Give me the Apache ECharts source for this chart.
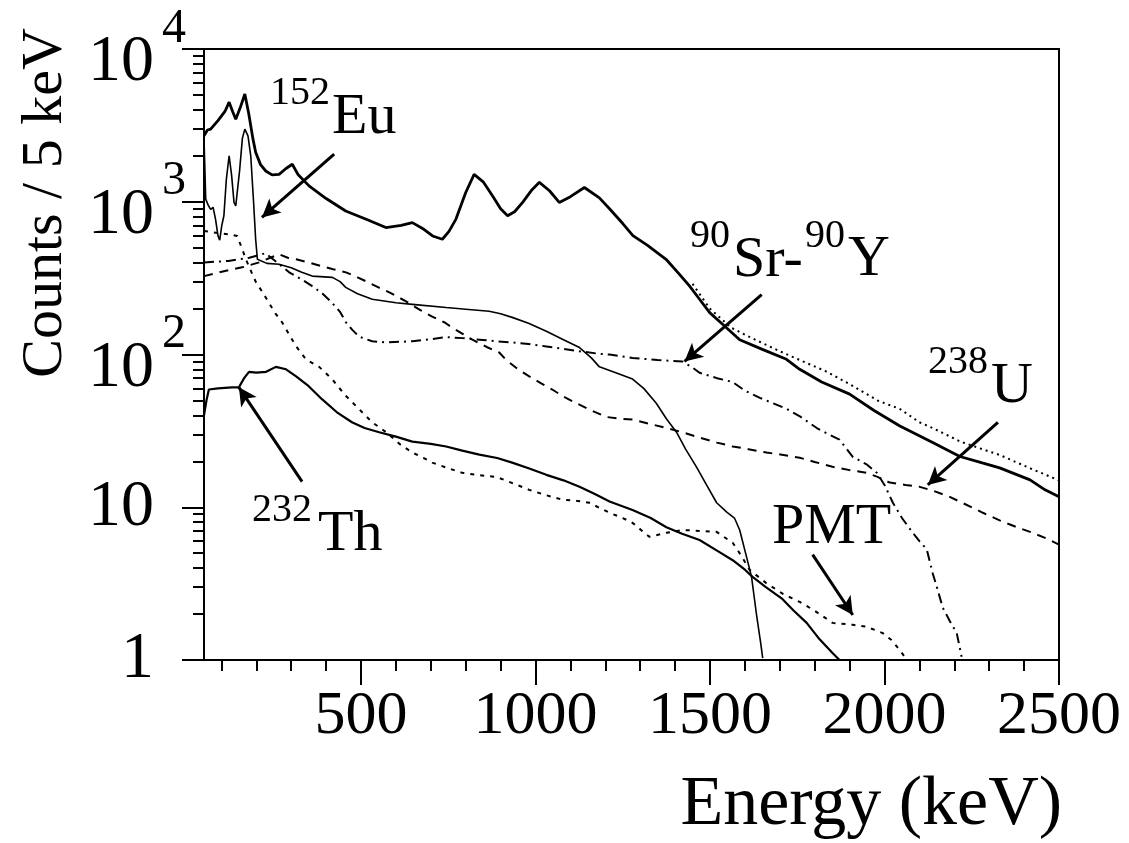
<!DOCTYPE html>
<html>
<head>
<meta charset="utf-8">
<script src="https://cdn.jsdelivr.net/npm/echarts@6/dist/echarts.min.js"></script>
<style>
html,body{margin:0;padding:0;background:#fff;}
#chart{width:1129px;height:843px;}
</style>
</head>
<body>
<div id="chart"></div>
<script>
// ---------- data (keV, counts / 5 keV) ----------
const topCurve = [[50,2700],[60,2950],[69,2990],[90,3400],[110,3900],[122,4490],[132,3900],[141,3470],[155,4200],[167,5070],[178,3800],[190,2600],[198,2110],[212,1750],[227,1590],[245,1500],[265,1510],[285,1650],[303,1760],[320,1500],[351,1270],[400,1050],[456,870],[520,760],[571,678],[615,700],[647,730],[680,660],[705,597],[733,568],[752,640],[772,770],[800,1150],[824,1510],[850,1350],[877,1090],[900,900],[920,810],[940,860],[963,990],[990,1200],[1011,1340],[1040,1180],[1068,990],[1100,1080],[1140,1240],[1183,1060],[1212,900],[1250,720],[1279,600],[1320,520],[1374,420],[1410,340],[1441,281],[1470,230],[1499,188],[1540,155],[1585,125],[1650,108],[1719,93],[1757,80],[1820,66],[1900,55],[1970,43],[2044,34],[2138,26.5],[2216,21.5],[2280,19.5],[2330,18.1],[2417,15.1],[2460,13],[2500,11.7]];
const topDotted = [[1450,290],[1499,200],[1560,150],[1620,128],[1700,105],[1757,92],[1830,78],[1900,64],[1980,50],[2044,44],[2100,36],[2138,33],[2216,27],[2280,24],[2330,22],[2417,18],[2500,15]];
const eu152 = [[50,2570],[53,1500],[55,1040],[62,950],[69,890],[76,920],[83,770],[90,600],[95,560],[101,700],[107,810],[114,1400],[122,2000],[129,1500],[136,990],[141,940],[152,1600],[160,2600],[167,2990],[176,2700],[184,2000],[192,1000],[198,568],[203,420],[230,395],[265,390],[300,370],[330,345],[360,326],[418,320],[440,300],[456,275],[490,250],[532,230],[600,218],[647,213],[744,203],[800,198],[867,192],[900,185],[933,175],[980,160],[1031,142],[1080,125],[1126,111],[1160,95],[1183,83],[1230,76],[1278,69],[1310,60],[1346,48],[1375,38],[1404,31],[1430,24],[1461,18.4],[1490,14],[1519,10.7],[1548,9.3],[1570,8.5],[1585,7.1],[1605,4.7],[1619,3.5],[1633,2.0],[1645,1.3],[1651,1.03]];
const th232 = [[50,40],[57,50],[64,59],[90,60],[130,61],[150,61],[165,70],[179,77],[200,76],[228,77],[256,83],[285,80],[314,72],[350,62],[388,51],[430,42],[474,36],[510,33],[552,31],[600,29],[647,26.9],[700,26],[744,25],[790,23.5],[839,22.1],[890,21],[933,19.6],[980,18],[1031,16.3],[1080,15],[1126,13.6],[1170,12.2],[1212,10.9],[1278,9.6],[1330,8.5],[1375,7.4],[1420,6.7],[1470,6.1],[1520,5.2],[1565,4.5],[1600,3.9],[1622,3.5],[1660,3.0],[1708,2.5],[1740,2.1],[1777,1.75],[1810,1.4],[1851,1.11],[1871,1.0]];
const u238 = [[50,326],[93,345],[130,361],[159,372],[208,401],[240,430],[265,453],[290,430],[314,420],[350,400],[388,378],[420,362],[457,345],[490,320],[515,301],[550,275],[581,255],[629,223],[670,195],[704,177],[740,162],[761,150],[790,137],[819,125],[860,112],[896,103],[916,92],[950,80],[982,72],[1015,65],[1048,59],[1080,53],[1117,48],[1160,43],[1203,39],[1240,38],[1278,37.5],[1330,35],[1375,33],[1420,31],[1470,28.6],[1520,26.5],[1565,25],[1610,24],[1662,22.8],[1710,22],[1757,21.1],[1800,19.8],[1851,18.4],[1900,17.5],[1949,16.8],[1980,15.8],[2015,14.5],[2060,14],[2101,13.6],[2140,12.8],[2187,11.7],[2230,10.5],[2282,9.2],[2330,8.2],[2379,7.4],[2417,6.9],[2460,6.3],[2500,5.7]];
const srY90 = [[50,400],[120,410],[180,430],[226,460],[260,400],[294,345],[330,310],[360,280],[390,250],[417,218],[440,190],[457,162],[475,145],[494,131],[532,122],[572,120],[647,122],[700,126],[744,130],[790,128],[839,125],[890,122],[933,120],[980,117],[1031,113],[1080,109],[1126,105],[1183,101],[1212,100],[1278,95],[1350,92],[1421,90],[1450,82],[1470,76],[1520,70],[1565,66],[1600,58],[1643,52],[1680,48],[1720,44],[1760,39],[1806,33],[1840,30],[1871,27.7],[1909,21.4],[1950,19],[1978,16.8],[2000,14],[2024,10.7],[2050,8.5],[2081,6.8],[2100,6],[2121,5.3],[2138,3.7],[2150,3],[2167,2.2],[2187,1.8],[2207,1.5],[2221,1.05]];
const pmt = [[50,644],[75,630],[102,620],[125,610],[145,597],[158,500],[170,420],[185,350],[199,297],[218,255],[236,218],[255,185],[274,162],[294,135],[314,113],[342,93],[380,83],[417,69],[455,54],[494,44],[532,36],[572,31],[610,26],[647,22.8],[680,21],[704,19.6],[750,18],[790,16.8],[840,16.2],[888,15.8],[930,14.5],[982,13.0],[1030,12],[1077,11.2],[1120,11],[1154,10.7],[1212,9.2],[1250,8.5],[1278,7.9],[1326,6.4],[1375,6.8],[1421,7.1],[1470,7.0],[1519,6.9],[1565,5.85],[1590,4.8],[1613,3.9],[1660,3.2],[1710,2.7],[1757,2.4],[1800,2.1],[1851,1.75],[1909,1.7],[1949,1.65],[1995,1.5],[2020,1.35],[2044,1.16],[2064,1.0]];

// annotation arrows: [from, to] in (keV, counts)
const arrowEu = [[423,2050],[216,790]];
const arrowSr = [[1648,247],[1427,90]];
const arrowU  = [[2325,36],[2124,14]];
const arrowPMT= [[1794,4.9],[1909,1.97]];
const arrowTh = [[331,14.7],[150,61]];

// ticks
const xMajorTicks = [500,1000,1500,2000,2500];
const xMinorTicks = [100,200,300,400,600,700,800,900,1100,1200,1300,1400,1600,1700,1800,1900,2100,2200,2300,2400];
const yMajorTicks = [1,10,100,1000,10000];
const yMinorTicks = [2,3,4,5,6,7,8,9,20,30,40,50,60,70,80,90,200,300,400,500,600,700,800,900,2000,3000,4000,5000,6000,7000,8000,9000];
const xName = 'Energy (keV)';
const yName = 'Counts / 5 keV';

// ---------- chart ----------
const FONT = '"Liberation Serif", "Times New Roman", serif';
const chart = echarts.init(document.getElementById('chart'), null, {renderer:'canvas'});

function line(data, width, type, z){
  return {type:'line', data:data, showSymbol:false, symbol:'none', silent:true, z:z||2,
          lineStyle:{color:'#000', width:width, type:type}, animation:false};
}
function arrow(a){ return [{coord:a[0]},{coord:a[1]}]; }

const series = [
  line(topCurve, 2.8, 'solid', 3),
  line(topDotted, 2, [2,4], 2),
  line(eu152, 1.6, 'solid', 3),
  line(th232, 2.2, 'solid', 3),
  line(u238, 2, [9,7], 2),
  line(srY90, 2, [10,5,2,5], 2),
  line(pmt, 2, [4,6], 2)
];
series[2].markLine = {
  silent:true, animation:false, symbol:['none','arrow'], symbolSize:[14,18],
  label:{show:false},
  lineStyle:{color:'#000', width:3, type:'solid'},
  data:[arrow(arrowEu), arrow(arrowSr), arrow(arrowU), arrow(arrowPMT), arrow(arrowTh)]
};

function supText(x, y, sup, main, supSize, mainSize, gap){
  return [
    {type:'text', x:x, y:y, style:{text:sup, font:supSize+'px '+FONT, fill:'#000', align:'left', verticalAlign:'middle'}},
    {type:'text', x:x + sup.length*supSize*0.5 + gap, y:y + mainSize*0.42, style:{text:main, font:mainSize+'px '+FONT, fill:'#000', align:'left', verticalAlign:'middle'}}
  ];
}

const graphics = [].concat(
  supText(270, 93, '152', 'Eu', 40, 58, 2),
  supText(690, 236, '90', 'Sr-', 40, 58, 3),
  [{type:'text', x:805, y:236, style:{text:'90', font:'40px '+FONT, fill:'#000', align:'left', verticalAlign:'middle'}},
   {type:'text', x:848, y:260, style:{text:'Y', font:'58px '+FONT, fill:'#000', align:'left', verticalAlign:'middle'}}],
  supText(928, 362, '238', 'U', 40, 58, 3),
  [{type:'text', x:772, y:528, style:{text:'PMT', font:'58px '+FONT, fill:'#000', align:'left', verticalAlign:'middle'}}],
  supText(252, 510, '232', 'Th', 40, 58, 6),
  [{type:'text', x:1062, y:806, style:{text:xName, font:'70px '+FONT, fill:'#000', align:'right', verticalAlign:'middle'}},
   {type:'text', x:46, y:203, rotation:Math.PI/2, style:{text:yName, font:'58px '+FONT, fill:'#000', align:'center', verticalAlign:'middle'}}]
);

const supMap = {100:'2', 1000:'3', 10000:'4'};

const option = {
  backgroundColor:'#fff',
  animation:false,
  grid:{left:204, right:70, top:49, bottom:183, show:true, borderColor:'#000', borderWidth:2,
        backgroundColor:'transparent', containLabel:false, outerBoundsMode:'none'},
  xAxis:[
    {type:'value', min:50, max:2500, position:'bottom',
     axisLine:{show:true, lineStyle:{color:'#000', width:2}},
     axisTick:{show:true, inside:false, length:25, customValues:xMajorTicks, lineStyle:{color:'#000', width:2}},
     axisLabel:{show:true, customValues:xMajorTicks, margin:26, color:'#000', fontSize:62, fontFamily:FONT,
       formatter:function(v){ return String(Math.round(v)); }},
     splitLine:{show:false}},
    {type:'value', min:50, max:2500, position:'bottom', offset:0,
     axisLine:{show:false},
     axisTick:{show:true, inside:false, length:11, customValues:xMinorTicks, lineStyle:{color:'#000', width:2}},
     axisLabel:{show:false},
     splitLine:{show:false}}
  ],
  yAxis:[
    {type:'log', logBase:10, min:1, max:10000, position:'left',
     axisLine:{show:true, lineStyle:{color:'#000', width:2}},
     axisTick:{show:true, inside:false, length:22, customValues:yMajorTicks, lineStyle:{color:'#000', width:2}},
     axisLabel:{show:true, customValues:yMajorTicks, margin:18,
       formatter:function(v){
         v = Math.round(v);
         if (supMap[v]) return '{b|10}{s|' + supMap[v] + '}';
         return '{n|' + v + '}{sp|}';
       },
       rich:{
         b:{fontSize:66, fontFamily:FONT, color:'#000', lineHeight:66, padding:[28,0,0,0]},
         n:{fontSize:66, fontFamily:FONT, color:'#000', lineHeight:66},
         s:{fontSize:48, fontFamily:FONT, color:'#000', lineHeight:48, padding:[0,0,40,8]},
         sp:{width:32}
       }},
     splitLine:{show:false}},
    {type:'log', logBase:10, min:1, max:10000, position:'left', offset:0,
     axisLine:{show:false},
     axisTick:{show:true, inside:false, length:11, customValues:yMinorTicks, lineStyle:{color:'#000', width:2}},
     axisLabel:{show:false},
     splitLine:{show:false}}
  ],
  series: series,
  graphic: graphics
};
chart.setOption(option);
</script>
</body>
</html>
